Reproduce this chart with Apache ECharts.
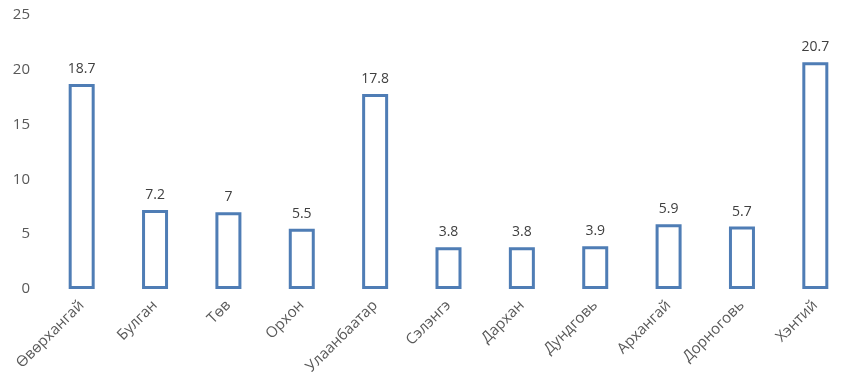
<!DOCTYPE html>
<html><head><meta charset="utf-8">
<script src="https://cdn.jsdelivr.net/npm/echarts@6/dist/echarts.min.js"></script>
<style>html,body{margin:0;padding:0;background:#fff}#c{width:860px;height:390px}</style>
</head><body><div id="c"></div>
<script>
const categories = ['Өвөрхангай','Булган','Төв','Орхон','Улаанбаатар','Сэлэнгэ','Дархан','Дундговь','Архангай','Дорноговь','Хэнтий'];
const values = [18.7, 7.2, 7, 5.5, 17.8, 3.8, 3.8, 3.9, 5.9, 5.7, 20.7];
const yTicks = [0, 5, 10, 15, 20, 25];
const chart = echarts.init(document.getElementById('c'));
chart.setOption({
  animation: false,
  grid: {left: 45, right: 8, top: 15, bottom: 101},
  xAxis: {
    type: 'category', data: categories,
    axisLine: {show: false}, axisTick: {show: false},
    axisLabel: {rotate: 45, color: '#595959', fontSize: 15, fontFamily: 'Open Sans', margin: 14, interval: 0}
  },
  yAxis: {
    type: 'value', min: yTicks[0], max: yTicks[yTicks.length-1], interval: 5,
    splitLine: {show: false}, axisLine: {show: false}, axisTick: {show: false},
    axisLabel: {color: '#595959', fontSize: 15, fontFamily: 'Open Sans', margin: 15}
  },
  series: [{
    type: 'bar', data: values, barWidth: 26,
    itemStyle: {color: '#fff', borderColor: '#4F7DB5', borderWidth: 3},
    label: {show: true, position: 'top', distance: 8, color: '#404040', fontSize: 14, fontFamily: 'Open Sans'}
  }]
});
</script></body></html>
